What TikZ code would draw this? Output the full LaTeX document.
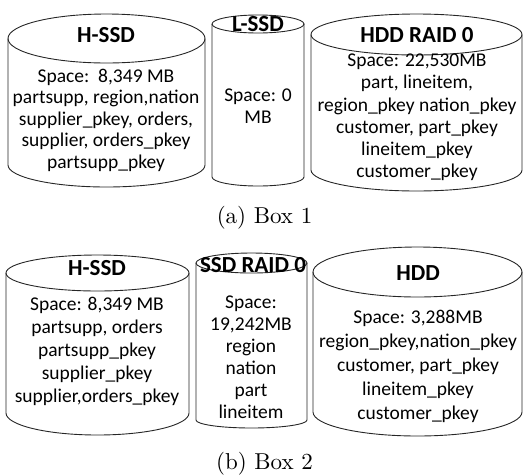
\documentclass[tikz,border=0pt]{standalone}
\usepackage{fontspec}
\newfontfamily\calib{Carlito}
\newfontfamily\capfont{lmroman10-regular.otf}
\tikzset{
  drumline/.style={draw=black!85, line width=0.9pt},
  ttl/.style={font=\calib\bfseries\fontsize{23}{26}\selectfont, inner sep=0pt},
  body/.style={font=\calib\fontsize{19.5}{22}\selectfont, align=center, inner sep=0pt},
  captxt/.style={font=\capfont\fontsize{23}{27}\selectfont, inner sep=0pt, anchor=base}
}
% #1 left x, #2 right x, #3 top centre y, #4 top ry, #5 bottom centre y, #6 bottom ry (y downwards)
\newcommand\drumshape[6]{%
  \pgfmathsetmacro\dcx{(#1+#2)/2}%
  \pgfmathsetmacro\drx{(#2-#1)/2}%
  \draw[drumline] (\dcx,-#3) ellipse [x radius=\drx, y radius=#4];
  \draw[drumline] (#1,-#3) -- (#1,-#5) arc[start angle=180, end angle=360, x radius=\drx, y radius=#6] -- (#2,-#3);
}
\begin{document}
\begin{tikzpicture}[x=1pt,y=1pt]
\useasboundingbox (0,0) rectangle (524,-475);
% Box 1
\drumshape{8}{205}{38.5}{24.5}{165}{22}
\drumshape{212}{304}{24}{9}{177}{9}
\drumshape{311}{522}{34.5}{20.5}{170}{21}
\node[ttl] (t1a) at (106,-35) {H-SSD};
\node[ttl] (t1b) at (258,-24) {L-SSD};
\node[ttl] (t1c) at (417,-35) {HDD RAID 0};
\node[body, font=\calib\fontsize{19.5}{21.5}\selectfont] (b1a) at (106,-120) {Space:\ \ 8,349 MB\\partsupp, region,nation\\supplier\_pkey, orders,\\supplier, orders\_pkey\\partsupp\_pkey};
\node[body] (b1b) at (258,-106) {Space: 0\\MB};
\node[body, font=\calib\fontsize{19.5}{22.2}\selectfont] (b1c) at (417,-117.5) {Space: 22,530MB\\part, lineitem,\\region\_pkey nation\_pkey\\customer, part\_pkey\\lineitem\_pkey\\customer\_pkey};
\node[captxt] (capa) at (264.5,-223) {(a) Box 1};
% Box 2
\drumshape{6}{189}{273}{18}{413}{22}
\drumshape{196}{307}{263}{10}{420}{8}
\drumshape{313}{522}{272}{25}{412}{24}
\node[ttl] (t2a) at (97,-268) {H-SSD};
\node[ttl] (t2b) at (253,-265) {SSD RAID 0};
\node[ttl] (t2c) at (418,-273) {HDD};
\node[body, font=\calib\fontsize{19.5}{23}\selectfont] (b2a) at (97,-351) {Space: 8,349 MB\\partsupp, orders\\partsupp\_pkey\\supplier\_pkey\\supplier,orders\_pkey};
\node[body] (b2b) at (251,-357) {Space:\\19,242MB\\region\\nation\\part\\lineitem};
\node[body, font=\calib\fontsize{19.5}{24}\selectfont] (b2c) at (418,-366) {Space: 3,288MB\\region\_pkey,nation\_pkey\\customer, part\_pkey\\lineitem\_pkey\\customer\_pkey};
\node[captxt] (capb) at (264.5,-469) {(b) Box 2};
\end{tikzpicture}
\end{document}
